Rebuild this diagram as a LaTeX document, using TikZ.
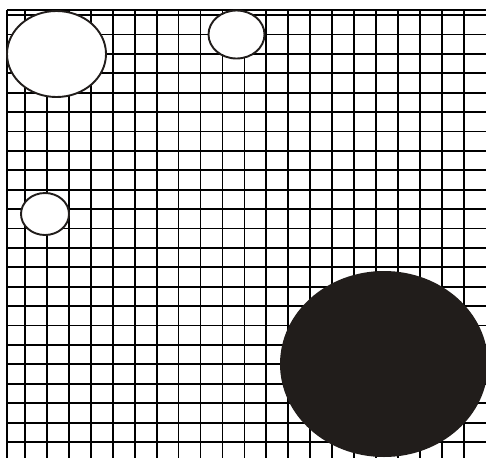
\documentclass[tikz,border=0pt]{standalone}
\definecolor{inkdark}{RGB}{33,29,27}
\begin{document}
\begin{tikzpicture}[x=1pt,y=-1pt,
  gridline/.style={line width=1.8pt,draw=black},
  blob/.style={line width=1.9pt,draw=inkdark,fill=white},
  solidblob/.style={fill=inkdark}]
\useasboundingbox (0,0) rectangle (486,458);
% horizontal grid lines
\draw[gridline] (7,10) -- (486,10);
\foreach \k in {0,...,22}{
  \draw[gridline] (7,{15+19.41*\k}) -- (486,{15+19.41*\k});
}
% vertical grid lines
\foreach \k in {0,...,20}{
  \draw[gridline] ({25+21.94*\k},10) -- ({25+21.94*\k},458);
}
% left border
\draw[line width=2.6pt,draw=black] (7,10) -- (7,458);
% ellipses
\draw[blob] (56.5,54) ellipse [x radius=49.5,y radius=43];
\draw[blob] (236.5,34.5) ellipse [x radius=28,y radius=24];
\draw[blob] (45,214) ellipse [x radius=24,y radius=21];
\fill[solidblob] (384,364) ellipse [x radius=104,y radius=93];
\end{tikzpicture}
\end{document}
